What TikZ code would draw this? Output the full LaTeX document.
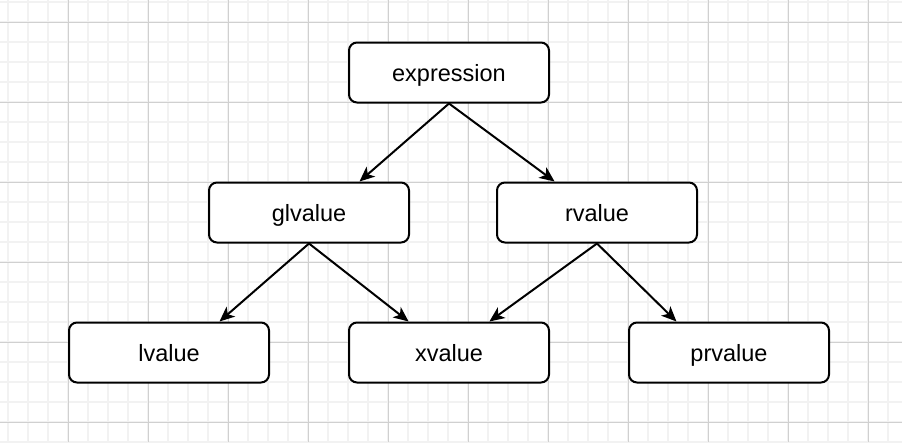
\documentclass[tikz,border=0pt]{standalone}
\usepackage{fontspec}
\setmainfont{Liberation Sans}
\usetikzlibrary{arrows.meta,positioning,calc}
\definecolor{GridMinor}{HTML}{F2F2F2}
\definecolor{GridMajor}{HTML}{D0D0D0}

\begin{document}
\begin{tikzpicture}[
    x=1pt, y=-1pt,
    node distance=78pt,
    box/.style={draw=black, line width=2pt, fill=white, rounded corners=8pt, minimum width=200pt, minimum height=60pt, text height=19.5pt, text depth=2.5pt, align=center, font=\fontsize{23.5}{28}\selectfont},
    arrow/.style={-{Stealth[length=15pt, width=13pt, inset=4pt]}, line width=2pt, color=black}
  ]
    \useasboundingbox (0,0) rectangle (902,442);
    \fill[white] (0,0) rectangle (902,442);
    % grid
    \foreach \gx in {8,28,...,900} \draw[GridMinor, line width=2pt] (\gx,0) -- (\gx,442);
    \foreach \gy in {2,22,...,442} \draw[GridMinor, line width=2pt] (0,\gy) -- (902,\gy);
    \foreach \gx in {68,148,...,900} \draw[GridMajor, line width=1pt] (\gx,0) -- (\gx,442);
    \foreach \gy in {22,102,...,442} \draw[GridMajor, line width=1pt] (0,\gy) -- (902,\gy);

    \node[box] (expr) at (449,72.5) {expression};
    \node[box, below=of expr, xshift=-140pt] (glv) {glvalue};
    \node[box, below=of expr, xshift=148pt] (rv) {rvalue};
    \node[box, below=218pt of expr] (xv) {xvalue};
    \node[box, left=of xv] (lv) {lvalue};
    \node[box, right=of xv] (prv) {prvalue};

    \draw[arrow] (expr.south) -- ($(glv.north west)!0.75!(glv.north east)$);
    \draw[arrow] (expr.south) -- ($(rv.north west)!0.29!(rv.north east)$);
    \draw[arrow] (glv.south) -- ($(lv.north west)!0.75!(lv.north east)$);
    \draw[arrow] (glv.south) -- ($(xv.north west)!0.3!(xv.north east)$);
    \draw[arrow] (rv.south) -- ($(xv.north west)!0.7!(xv.north east)$);
    \draw[arrow] (rv.south) -- ($(prv.north west)!0.24!(prv.north east)$);
  \end{tikzpicture}
\end{document}
